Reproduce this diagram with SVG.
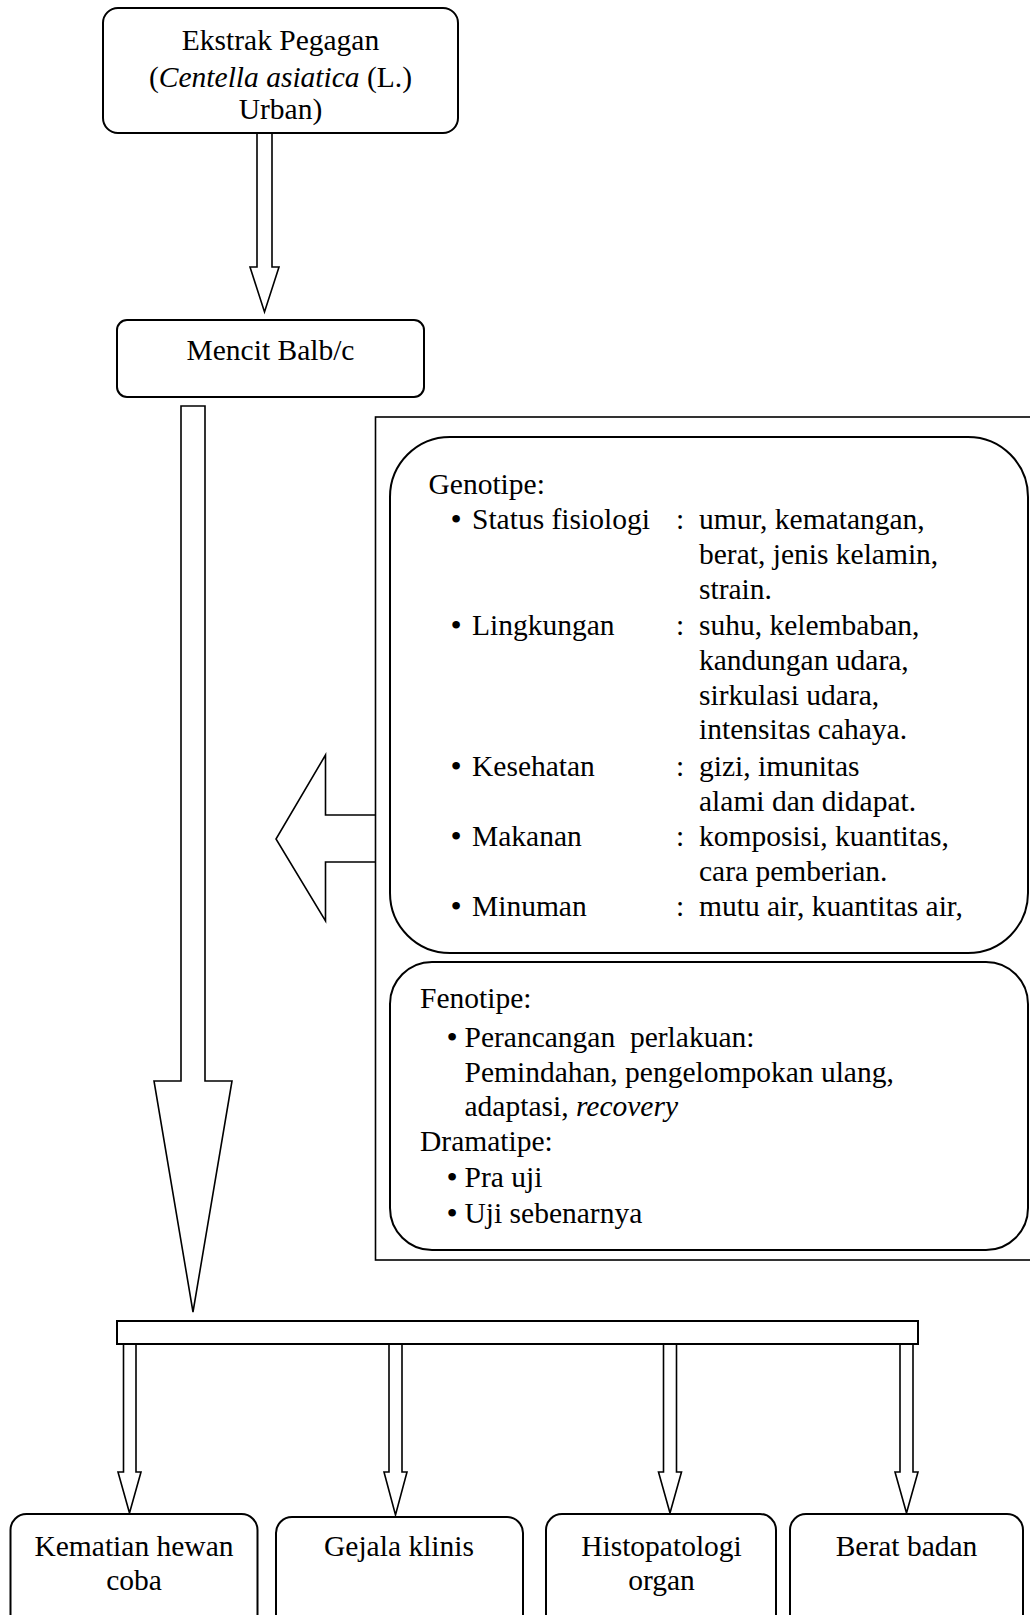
<svg xmlns="http://www.w3.org/2000/svg" width="1030" height="1615" viewBox="0 0 1030 1615">
<style>
.box{fill:#fff;stroke:#000;stroke-width:2}
.frame{fill:none;stroke:#000;stroke-width:1.6}
.arrow{fill:#fff;stroke:#000;stroke-width:1.6;stroke-linejoin:miter}
text{font-family:"Liberation Serif","Times New Roman",serif;font-size:29.5px;fill:#000}
.c{text-anchor:middle}
.i{font-style:italic}
.b{font-size:32px;text-anchor:middle}
</style>
<rect width="1030" height="1615" fill="#fff"/>
<g id="connectors">
<polygon class="arrow" points="257,133 272,133 272,267 279,267 264.5,312 250,267 257,267"/>
<polygon class="arrow" points="181,406 205,406 205,1081 232,1081 193,1312 154,1081 181,1081"/>
<polyline class="arrow" points="375.5,815 325.5,815 325.5,755 276,839 325.5,921 325.5,862 375.5,862"/>
<polygon class="arrow" points="123.5,1344 136,1344 136,1472 141,1472 129.5,1513 118,1472 123.5,1472"/>
<polygon class="arrow" points="389,1344 402,1344 402,1472 407,1472 395.5,1515 384,1472 389,1472"/>
<polygon class="arrow" points="663.5,1344 676.5,1344 676.5,1472 681.5,1472 670,1513 658.5,1472 663.5,1472"/>
<polygon class="arrow" points="900,1344 913,1344 913,1472 918,1472 906.5,1513 895,1472 900,1472"/>
</g>
<g id="frame">
<rect class="frame" x="375.5" y="417" width="660" height="843"/>
</g>
<g id="ekstrak">
<rect class="box" x="103" y="8" width="355" height="125" rx="15"/>
<text class="c" x="280.5" y="50">Ekstrak Pegagan</text>
<text class="c" x="280.5" y="87">(<tspan class="i">Centella asiatica</tspan> (L.)</text>
<text class="c" x="280.5" y="119">Urban)</text>
</g>
<g id="mencit">
<rect class="box" x="117" y="320" width="307" height="77" rx="10"/>
<text class="c" x="270.5" y="360">Mencit Balb/c</text>
</g>
<g id="genotipe">
<rect class="box" x="390" y="437" width="638" height="516" rx="60"/>
<text x="428.5" y="494">Genotipe:</text>
<text class="b" x="456" y="530">•</text><text x="472" y="529">Status fisiologi</text><text x="676" y="529">:</text><text x="699" y="529">umur, kematangan,</text>
<text x="699" y="564">berat, jenis kelamin,</text>
<text x="699" y="599">strain.</text>
<text class="b" x="456" y="636">•</text><text x="472" y="635">Lingkungan</text><text x="676" y="635">:</text><text x="699" y="635">suhu, kelembaban,</text>
<text x="699" y="670">kandungan udara,</text>
<text x="699" y="705">sirkulasi udara,</text>
<text x="699" y="739">intensitas cahaya.</text>
<text class="b" x="456" y="777">•</text><text x="472" y="776">Kesehatan</text><text x="676" y="776">:</text><text x="699" y="776">gizi, imunitas</text>
<text x="699" y="811">alami dan didapat.</text>
<text class="b" x="456" y="847">•</text><text x="472" y="846">Makanan</text><text x="676" y="846">:</text><text x="699" y="846">komposisi, kuantitas,</text>
<text x="699" y="881">cara pemberian.</text>
<text class="b" x="456" y="917">•</text><text x="472" y="916">Minuman</text><text x="676" y="916">:</text><text x="699" y="916">mutu air, kuantitas air,</text>
</g>
<g id="fenotipe">
<rect class="box" x="390" y="962" width="638" height="288" rx="42"/>
<text x="420" y="1008">Fenotipe:</text>
<text class="b" x="452" y="1048">•</text><text x="464.5" y="1047" xml:space="preserve">Perancangan  perlakuan:</text>
<text x="464.5" y="1082">Pemindahan, pengelompokan ulang,</text>
<text x="464.5" y="1116">adaptasi, <tspan class="i">recovery</tspan></text>
<text x="420" y="1151">Dramatipe:</text>
<text class="b" x="452" y="1188">•</text><text x="464.5" y="1187">Pra uji</text>
<text class="b" x="452" y="1224">•</text><text x="464.5" y="1223">Uji sebenarnya</text>
</g>
<g id="bar">
<rect class="box" x="117" y="1321" width="801" height="23"/>
</g>
<g id="kematian">
<rect class="box" x="10.5" y="1514" width="247" height="120" rx="16"/>
<text class="c" x="134" y="1556">Kematian hewan</text>
<text class="c" x="134" y="1590">coba</text>
</g>
<g id="gejala">
<rect class="box" x="276" y="1517" width="247" height="120" rx="16"/>
<text class="c" x="399" y="1556">Gejala klinis</text>
</g>
<g id="histopatologi">
<rect class="box" x="546" y="1514" width="230" height="120" rx="16"/>
<text class="c" x="661.5" y="1556">Histopatologi</text>
<text class="c" x="661.5" y="1590">organ</text>
</g>
<g id="berat">
<rect class="box" x="790" y="1514" width="233" height="120" rx="16"/>
<text class="c" x="906.5" y="1556">Berat badan</text>
</g>
</svg>
